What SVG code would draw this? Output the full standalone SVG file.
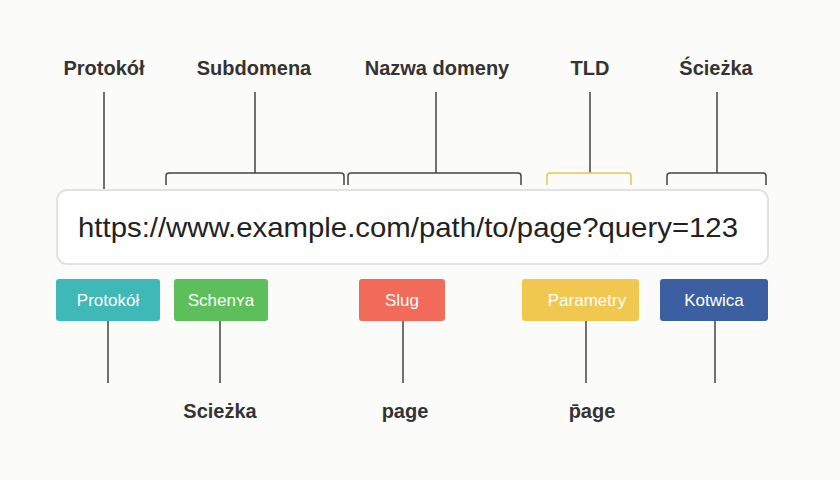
<svg xmlns="http://www.w3.org/2000/svg" width="840" height="480" viewBox="0 0 840 480">
<style>
.t{font-family:"Liberation Sans",Arial,sans-serif;font-weight:bold;font-size:20px;fill:#333;text-anchor:middle}
.b{font-family:"Liberation Sans",Arial,sans-serif;font-size:17px;fill:#fff;text-anchor:middle}
.l{stroke:#444;stroke-width:1.5;fill:none}
</style>
<rect width="840" height="480" fill="#fbfbf9"/>
<g id="connectors">
<path class="l" d="M104 92V189M255 92V173M436 92V173M717 92V173"/>
<path class="l" d="M590 92V173" />
<path class="l" d="M166 185V176Q166 173 169 173H341Q344 173 344 176V185M348 185V176Q348 173 351 173H518Q521 173 521 176V185M667 185V176Q667 173 670 173H763Q766 173 766 176V185"/>
<path d="M547 185V176Q547 173 550 173H628Q631 173 631 176V185" fill="none" stroke="#e8c458" stroke-width="1.5"/>
<path class="l" d="M108 321V383M220 321V383M403 321V383M586 321V383M715 321V383"/>
</g>
<g id="url"><rect x="57" y="190" width="711" height="74" rx="10" fill="#fff" stroke="#e2e2e2" stroke-width="2"/>
<text x="78" y="237" textLength="660" lengthAdjust="spacingAndGlyphs" style="font-family:'Liberation Sans',Arial,sans-serif;font-size:28px;fill:#222">https://www.example.com/path/to/page?query=123</text></g>
<g id="top-labels">
<text class="t" x="104" y="75">Protokół</text>
<text class="t" x="254" y="75">Subdomena</text>
<text class="t" x="437" y="75">Nazwa domeny</text>
<text class="t" x="590" y="75">TLD</text>
<text class="t" x="716" y="75">Ścieżka</text>
</g>
<g id="n-protokol"><rect x="56" y="279" width="104" height="42" rx="3" fill="#3fb8b8"/><text class="b" x="108" y="306">Protokół</text></g>
<g id="n-schema"><rect x="174" y="279" width="94" height="42" rx="3" fill="#5cbf5a"/><text class="b" x="221" y="306">Schenʏa</text></g>
<g id="n-slug"><rect x="359" y="279" width="86" height="42" rx="3" fill="#f26a5a"/><text class="b" x="402" y="306">Slug</text></g>
<g id="n-param"><rect x="522" y="279" width="117" height="42" rx="3" fill="#f0c850"/><text class="b" x="587" y="306">Parametry</text></g>
<g id="n-kotwica"><rect x="660" y="279" width="108" height="42" rx="3" fill="#3b5fa0"/><text class="b" x="714" y="306">Kotwica</text></g>
<g id="bottom-labels">
<text class="t" x="220" y="418">Scieżka</text>
<text class="t" x="405" y="418">page</text>
<text class="t" x="592" y="418">p̄age</text>
</g>
</svg>
